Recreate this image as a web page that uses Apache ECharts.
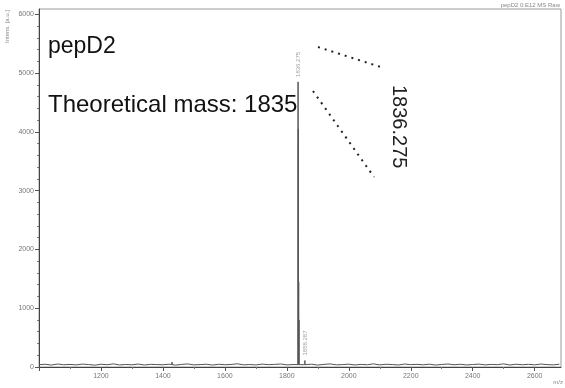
<!DOCTYPE html>
<html>
<head>
<meta charset="utf-8">
<script src="https://cdn.jsdelivr.net/npm/echarts@6/dist/echarts.min.js"></script>
<style>
  html, body { margin: 0; padding: 0; background: #fff; }
  #chart { width: 565px; height: 388px; }
</style>
</head>
<body>
<div id="chart"></div>
<script>
// Baseline intensities, one reading every 20 m/z starting at 1000
const baselineStartMz = 1000;
const baselineStepMz = 20;
const baselineIntensity = [
  40, 46, 33, 51, 38, 44, 36, 49, 42, 31,
  47, 39, 53, 35, 43, 37, 50, 34, 45, 41,
  38, 48, 32, 44, 52, 36, 41, 47, 33, 46,
  39, 43, 55, 37, 42, 35, 49, 40, 44, 51,
  36, 42, 60, 38, 47, 33, 45, 52, 37, 41,
  48, 35, 44, 39, 53, 36, 46, 42, 34, 50,
  40, 45, 37, 48, 33, 43, 51, 38, 46, 35,
  42, 49, 36, 44, 40, 53, 34, 47, 39, 45,
  37, 50, 41, 36, 48
];

// Peaks (m/z and intensity)
const peakMz = [1429.6, 1836.275, 1837.28, 1838.28, 1839.28, 1858.287];
const peakIntensity = [85, 4850, 4050, 1450, 800, 110];

// Peaks that carry an m/z label
const labelledMz = [1836.275, 1858.287];

const yTicks = [0, 1000, 2000, 3000, 4000, 5000, 6000];
const xTicks = [1200, 1400, 1600, 1800, 2000, 2200, 2400, 2600];

// Assemble the profile: baseline readings plus narrow spikes
const profile = [];
baselineIntensity.forEach((v, i) => profile.push([baselineStartMz + i * baselineStepMz, v]));
peakMz.forEach((mz, i) => {
  profile.push([mz - 0.4, 40]);
  profile.push([mz, peakIntensity[i]]);
  profile.push([mz + 0.4, 40]);
});
profile.sort((a, b) => a[0] - b[0]);

const labelPoints = labelledMz.map(mz => [mz, peakIntensity[peakMz.indexOf(mz)]]);

const chart = echarts.init(document.getElementById('chart'), null, { renderer: 'canvas' });
const labelFont = 'Liberation Sans, Arial, sans-serif';

chart.setOption({
  animation: false,
  backgroundColor: '#fff',
  grid: {
    left: 39, right: 4, top: 9, bottom: 21,
    show: true, borderColor: '#9a9a9a', borderWidth: 1
  },
  xAxis: {
    type: 'value',
    min: 1000, max: 2685, interval: 200,
    axisLine: { lineStyle: { color: '#444', width: 1 } },
    axisTick: { show: true, length: 4, lineStyle: { color: '#555' }, customValues: xTicks.concat([1000]) },
    minorTick: { show: true, splitNumber: 2, length: 2, lineStyle: { color: '#777' } },
    splitLine: { show: false },
    axisLabel: {
      customValues: xTicks,
      formatter: v => String(v),
      fontSize: 7, color: '#777', fontFamily: labelFont, margin: 6
    }
  },
  yAxis: {
    type: 'value',
    min: 0, max: 6090, interval: 1000,
    axisLine: { show: true, lineStyle: { color: '#444', width: 1 } },
    axisTick: { show: true, length: 4, lineStyle: { color: '#555' }, customValues: yTicks },
    minorTick: { show: true, splitNumber: 5, length: 2, lineStyle: { color: '#777' } },
    splitLine: { show: false },
    axisLabel: {
      customValues: yTicks,
      formatter: v => String(v),
      fontSize: 7, color: '#777', fontFamily: labelFont, margin: 5
    }
  },
  series: [
    {
      type: 'line',
      data: profile,
      showSymbol: false,
      symbol: 'none',
      lineStyle: { color: '#555', width: 1 },
      z: 3
    },
    {
      type: 'scatter',
      data: labelPoints,
      symbolSize: 0,
      label: {
        show: true,
        position: 'top',
        distance: 3,
        rotate: 90,
        align: 'left',
        verticalAlign: 'middle',
        offset: [2, 0],
        fontSize: 6,
        color: '#888',
        fontFamily: labelFont,
        formatter: p => p.value[0].toFixed(3)
      },
      z: 4
    }
  ],
  graphic: [
    { type: 'text', left: 48, top: 35,
      style: { text: 'pepD2', font: '23px Liberation Sans, Arial, sans-serif', fill: '#111' } },
    { type: 'text', left: 48, top: 93,
      style: { text: 'Theoretical mass: 1835', font: '24px Liberation Sans, Arial, sans-serif', fill: '#111' } },
    { type: 'text', x: 399, y: 85, rotation: -Math.PI / 2,
      style: { text: '1836.275', font: '20px Liberation Sans, Arial, sans-serif', fill: '#222',
               textAlign: 'left', textVerticalAlign: 'middle' } },
    { type: 'line', shape: { x1: 318, y1: 47, x2: 384, y2: 68 },
      style: { stroke: '#222', lineWidth: 2, lineDash: [2, 5] } },
    { type: 'line', shape: { x1: 313, y1: 91, x2: 374, y2: 177 },
      style: { stroke: '#222', lineWidth: 2, lineDash: [2, 5] } },
    { type: 'text', right: 5, top: 2,
      style: { text: 'pepD2 0:E12 MS Raw', font: '6px Liberation Sans, Arial, sans-serif', fill: '#888' } },
    { type: 'text', x: 7, y: 10, rotation: Math.PI / 2,
      style: { text: 'Intens. [a.u.]', font: '6px Liberation Sans, Arial, sans-serif', fill: '#888',
               textAlign: 'right', textVerticalAlign: 'middle' } },
    { type: 'text', right: 2, bottom: 3,
      style: { text: 'm/z', font: '6px Liberation Sans, Arial, sans-serif', fill: '#888' } }
  ]
});
</script>
</body>
</html>
